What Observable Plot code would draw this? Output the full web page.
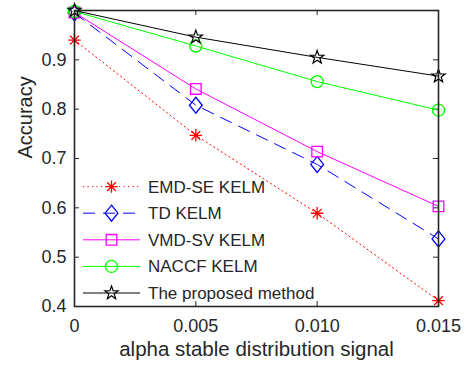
<!DOCTYPE html>
<html>
<head>
<meta charset="utf-8">
<script src="https://cdn.jsdelivr.net/npm/d3@7"></script>
<script src="https://cdn.jsdelivr.net/npm/@observablehq/plot@0.6"></script>
<style>
  html, body { margin: 0; padding: 0; background: #fff; }
  #chart { width: 468px; height: 365px; }
</style>
</head>
<body>
<div id="chart"></div>
<script>
// ---- data ----
const xValues = [0, 0.005, 0.010, 0.015];
const xTicks = [0, 0.005, 0.010, 0.015];
const xTickLabels = ["0", "0.005", "0.010", "0.015"];
const yTicks = [0.4, 0.5, 0.6, 0.7, 0.8, 0.9];
const seriesNames = ["EMD-SE KELM", "TD KELM", "VMD-SV KELM", "NACCF KELM", "The proposed method"];
const emdSE = [0.940, 0.747, 0.589, 0.412];
const tdK = [0.995, 0.808, 0.688, 0.537];
const vmdSV = [0.996, 0.841, 0.714, 0.603];
const naccf = [0.998, 0.928, 0.856, 0.798];
const proposed = [1.0, 0.946, 0.905, 0.867];
const xLabel = "alpha stable distribution signal";
const yLabel = "Accuracy";

// ---- custom symbols ----
const asterisk8 = {draw(ctx, size) {
  const r = Math.sqrt(size / Math.PI), d = r * Math.SQRT1_2;
  ctx.moveTo(-r, 0); ctx.lineTo(r, 0);
  ctx.moveTo(0, -r); ctx.lineTo(0, r);
  ctx.moveTo(-d, -d); ctx.lineTo(d, d);
  ctx.moveTo(-d, d); ctx.lineTo(d, -d);
}};
const diamondM = {draw(ctx, size) {
  const r = Math.sqrt(size / Math.PI);
  ctx.moveTo(0, -r); ctx.lineTo(r * 0.8, 0); ctx.lineTo(0, r); ctx.lineTo(-r * 0.8, 0); ctx.closePath();
}};
const squareM = {draw(ctx, size) {
  const r = Math.sqrt(size / Math.PI);
  ctx.rect(-r, -r, 2 * r, 2 * r);
}};
const circleM = {draw(ctx, size) {
  const r = Math.sqrt(size / Math.PI);
  ctx.moveTo(r, 0); ctx.arc(0, 0, r, 0, 2 * Math.PI);
}};
const starM = {draw(ctx, size) {
  const R = Math.sqrt(size / Math.PI), ri = R * 0.4;
  for (let i = 0; i < 10; i++) {
    const a = -Math.PI / 2 + i * Math.PI / 5, rr = i % 2 ? ri : R;
    const px = rr * Math.cos(a), py = rr * Math.sin(a);
    if (i === 0) ctx.moveTo(px, py); else ctx.lineTo(px, py);
  }
  ctx.closePath();
}};

const styles = [
  {values: emdSE, color: "#ff0000", dash: "1.2,3.3", symbol: asterisk8, r: 6.2, sw: 1.3},
  {values: tdK, color: "#0000ff", dash: "12,8", symbol: diamondM, r: 8, sw: 1.3},
  {values: vmdSV, color: "#ff00ff", dash: null, symbol: squareM, r: 5.3, sw: 1.3},
  {values: naccf, color: "#00ff00", dash: null, symbol: circleM, r: 6, sw: 1.3},
  {values: proposed, color: "#000000", dash: null, symbol: starM, r: 7, sw: 1.2}
];

const W = 468, H = 365;
const mL = 74, mR = 30, mT = 10, mB = 59;
const pw = W - mL - mR, ph = H - mT - mB;
const axisColor = "#262626";

const marks = [];
styles.forEach((s, i) => {
  const data = xValues.map((x, j) => ({x, y: s.values[j], name: seriesNames[i]}));
  marks.push(Plot.line(data, {x: "x", y: "y", stroke: s.color, strokeWidth: 1, strokeDasharray: s.dash}));
  marks.push(Plot.dot(data, {x: "x", y: "y", symbol: () => s.symbol, r: s.r, stroke: s.color, strokeWidth: s.sw, fill: "none"}));
});

const plot = Plot.plot({
  width: W, height: H,
  marginLeft: mL, marginRight: mR, marginTop: mT, marginBottom: mB,
  style: {fontFamily: "'Liberation Sans', Arial, sans-serif", fontSize: "18px", color: axisColor, background: "#fff"},
  x: {domain: [0, 0.015]},
  y: {domain: [0.4, 1.0]},
  symbol: {type: "identity"},
  marks: [
    // inward ticks
    Plot.ruleX(xTicks, {x: d => d, insetTop: ph - 5, stroke: axisColor, strokeWidth: 1}),
    Plot.ruleX(xTicks, {x: d => d, insetBottom: ph - 5, stroke: axisColor, strokeWidth: 1}),
    Plot.ruleY(yTicks, {y: d => d, insetRight: pw - 5, stroke: axisColor, strokeWidth: 1}),
    Plot.ruleY(yTicks, {y: d => d, insetLeft: pw - 5, stroke: axisColor, strokeWidth: 1}),
    Plot.axisX({ticks: xTicks, tickFormat: d => xTickLabels[xTicks.indexOf(d)], tickSize: 0, tickPadding: 13, label: null, fontSize: 18, fill: axisColor}),
    Plot.axisY({ticks: yTicks, tickFormat: d => d.toFixed(1), tickSize: 0, tickPadding: 8, label: null, fontSize: 18, fill: axisColor}),
    Plot.text([xLabel], {text: d => d, frameAnchor: "bottom", dy: 43, fontSize: 20.5, fill: axisColor, lineAnchor: "middle"}),
    Plot.text([yLabel], {text: d => d, frameAnchor: "left", dx: -43, rotate: -90, fontSize: 20, fill: axisColor, lineAnchor: "bottom"}),
    ...marks,
    Plot.frame({stroke: axisColor, strokeWidth: 1.6})
  ]
});

document.getElementById("chart").appendChild(plot);

// ---- legend (inside plot, bottom-left) ----
const svg = d3.select(plot);
const lg = svg.append("g")
  .attr("font-family", "'Liberation Sans', Arial, sans-serif")
  .attr("font-size", 17)
  .attr("text-anchor", "start");
const rowY0 = mT + ph - 13 - 4 * 26.6;
styles.forEach((s, i) => {
  const y = rowY0 + i * 26.6;
  const x0 = mL + 9, x1 = mL + 66, xm = (x0 + x1) / 2;
  lg.append("line").attr("x1", x0).attr("x2", x1).attr("y1", y).attr("y2", y)
    .attr("stroke", s.color).attr("stroke-width", 1).attr("stroke-dasharray", s.dash);
  const p = d3.path();
  s.symbol.draw(p, s.r * s.r * Math.PI);
  lg.append("path").attr("d", p.toString()).attr("transform", `translate(${xm},${y})`)
    .attr("fill", "none").attr("stroke", s.color).attr("stroke-width", s.sw);
  lg.append("text").attr("x", mL + 74).attr("y", y).attr("dy", "0.35em")
    .attr("text-anchor", "start").attr("fill", axisColor).text(seriesNames[i]);
});
</script>
</body>
</html>
